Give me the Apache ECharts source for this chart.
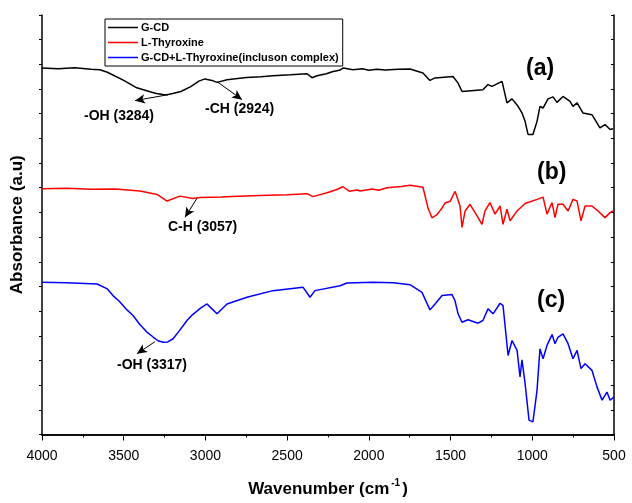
<!DOCTYPE html>
<html>
<head>
<meta charset="utf-8">
<script src="https://cdn.jsdelivr.net/npm/echarts@6/dist/echarts.min.js"></script>
<style>
  html, body { margin: 0; padding: 0; background: #fff; }
  #main { width: 632px; height: 503px; }
</style>
</head>
<body>
<div id="main"></div>
<script>
const chartDom = document.getElementById('main');
const myChart = echarts.init(chartDom);

// wavenumber (cm-1) / absorbance (a.u.)
const gcdWave = [4000, 3900, 3800, 3700, 3645, 3600, 3500, 3420, 3339, 3300, 3260, 3235, 3200, 3150, 3090, 3040, 3003, 2960, 2929, 2868, 2750, 2660, 2587, 2480, 2378, 2348, 2317, 2260, 2219, 2180, 2158, 2097, 2040, 2000, 1950, 1900, 1820,
    1748, 1669, 1626, 1595, 1485, 1454, 1430, 1302, 1271, 1247, 1185, 1155, 1124, 1087, 1063, 1044, 1026, 996, 971, 953, 934, 904, 873, 849, 812, 769, 751, 726, 690, 635, 586, 555, 524, 506];
const gcdAbs  = [14.85, 14.82, 14.86, 14.8, 14.78, 14.68, 14.35, 14.05, 13.89, 13.82, 13.78, 13.77, 13.82, 13.9, 14.1, 14.32, 14.41, 14.35, 14.27, 14.38, 14.47, 14.5, 14.54, 14.58, 14.62, 14.46, 14.54, 14.62, 14.71, 14.76, 14.85, 14.78, 14.82, 14.76, 14.8, 14.77, 14.8,
    14.81, 14.65, 14.35, 14.45, 14.51, 14.24, 13.9, 13.97, 14.18, 14.11, 14.31, 13.44, 13.6, 13.3, 13.03, 12.69, 12.16, 12.16, 12.69, 13.3, 13.23, 13.6, 13.68, 13.46, 13.7, 13.5, 13.3, 13.44, 13.03, 12.96, 12.43, 12.56, 12.36, 12.39];

const thyWave = [4000, 3850, 3700, 3550, 3400, 3296, 3235, 3156, 3076, 3033, 2900, 2800, 2666, 2500, 2378, 2342, 2256, 2200, 2158, 2120, 2072, 2054, 1980, 1940, 1889, 1800,
    1748, 1669, 1638, 1614, 1583, 1552, 1534, 1503, 1472, 1442, 1430, 1411, 1381, 1338, 1308, 1289, 1259, 1228, 1197, 1179, 1155, 1136, 1093, 1044, 971, 934, 910, 879, 861, 843, 812, 781, 751, 726, 702, 677, 635, 598, 555, 524, 506];
const thyAbs  = [9.96, 9.98, 9.94, 9.95, 9.87, 9.73, 9.46, 9.66, 9.56, 9.6, 9.62, 9.65, 9.69, 9.72, 9.76, 9.64, 9.8, 9.92, 10.04, 9.86, 9.91, 9.87, 9.95, 9.9, 10.0, 10.05,
    10.1, 10.02, 9.18, 8.78, 8.91, 9.18, 9.38, 9.45, 9.85, 9.26, 8.39, 9.06, 9.33, 8.86, 8.52, 9.06, 9.4, 8.93, 9.26, 8.52, 9.13, 8.66, 9.06, 9.36, 9.53, 9.62, 8.93, 9.4, 8.79, 9.33, 9.33, 9.06, 9.53, 9.46, 8.66, 9.26, 9.26, 9.06, 8.79, 8.99, 9.06];

const cmplxWave = [4000, 3850, 3663, 3600, 3566, 3530, 3480, 3443, 3400, 3358, 3320, 3290, 3260, 3230, 3198, 3160, 3113, 3080, 3030, 2990, 2960, 2929, 2868, 2746, 2587, 2403, 2360, 2330, 2176, 2134, 1975, 1850,
    1748, 1675, 1626, 1595, 1552, 1491, 1473, 1454, 1430, 1393, 1332, 1302, 1271, 1240, 1197, 1179, 1148, 1124, 1093, 1075, 1063, 1044, 1020, 996, 971, 953, 934, 910, 879, 861, 843, 812, 781, 751, 726, 702, 677, 635, 604, 573, 543, 524, 500];
const cmplxAbs  = [6.17, 6.15, 6.1, 5.9, 5.63, 5.42, 5.05, 4.82, 4.45, 4.15, 3.95, 3.8, 3.74, 3.75, 3.88, 4.2, 4.62, 4.85, 5.12, 5.29, 5.09, 4.89, 5.29, 5.56, 5.83, 5.97, 5.56, 5.83, 6.03, 6.14, 6.17, 6.15,
    6.07, 5.76, 5.05, 5.29, 5.63, 5.67, 5.42, 4.89, 4.55, 4.65, 4.51, 4.62, 5.09, 4.89, 5.32, 5.22, 3.2, 3.81, 3.41, 2.33, 3.03, 2.06, 0.58, 0.51, 1.79, 3.47, 3.07, 3.61, 4.05, 3.68, 3.94, 4.08, 3.68, 3.07, 3.41, 2.67, 2.87, 2.6, 1.93, 1.39, 1.72, 1.39, 1.52];

const names = ['G-CD', 'L-Thyroxine', 'G-CD+L-Thyroxine(incluson complex)'];
const colors = ['#000000', '#ff0000', '#0000ff'];

// peak arrows: [from wave, from abs, to wave, to abs]
const arrowsA = [[3229, 13.77, 3431, 13.53], [2929, 14.3, 2776, 13.57]];
const arrowsB = [[3052, 9.57, 3125, 8.8]];
const arrowsC = [[3309, 3.76, 3419, 3.27]];

const font = '"Liberation Sans", Arial, sans-serif';

function zip(xs, ys) {
    return xs.map(function (x, i) { return [x, ys[i]]; });
}

function arrowLines(list) {
    return {
        silent: true,
        symbol: ['none', 'arrow'],
        symbolSize: [7, 10],
        label: { show: false },
        lineStyle: { color: '#000', width: 1, type: 'solid' },
        data: list.map(function (a) {
            return [{ coord: [a[0], a[1]] }, { coord: [a[2], a[3]] }];
        })
    };
}

function series(idx, data, arrows) {
    return {
        name: names[idx],
        type: 'line',
        data: data,
        showSymbol: false,
        symbol: 'none',
        lineStyle: { color: colors[idx], width: 1.5 },
        itemStyle: { color: colors[idx] },
        markLine: arrowLines(arrows),
        animation: false
    };
}

const option = {
    backgroundColor: '#fff',
    animation: false,
    textStyle: { fontFamily: font },
    grid: { left: 42, right: 18, top: 15, bottom: 67 },
    legend: {
        orient: 'vertical',
        left: 105,
        top: 19,
        padding: [3, 4, 3, 3],
        itemGap: 4,
        itemWidth: 30,
        itemHeight: 1.5,
        icon: 'rect',
        borderColor: '#000',
        borderWidth: 1,
        backgroundColor: '#fff',
        textStyle: { fontSize: 11, fontWeight: 'bold', color: '#000', fontFamily: font, padding: [0, 0, 0, -2] },
        data: names
    },
    xAxis: [{
        type: 'value',
        min: 500,
        max: 4000,
        interval: 500,
        inverse: true,
        name: '{a|Wavenumber (cm}{s|-1}{a|)}',
        nameLocation: 'middle',
        nameGap: 44,
        nameTextStyle: {
            rich: {
                a: { fontSize: 17, fontWeight: 'bold', color: '#000', fontFamily: font },
                s: { fontSize: 10, fontWeight: 'bold', color: '#000', fontFamily: font, padding: [0, 2, 12, 2] }
            }
        },
        axisLine: { show: true, lineStyle: { color: '#000', width: 1.5 } },
        axisTick: { show: true, inside: false, length: 6, lineStyle: { color: '#000', width: 1 } },
        minorTick: { show: true, splitNumber: 2, length: 3, lineStyle: { color: '#000' } },
        axisLabel: {
            fontSize: 14, color: '#000', margin: 15, fontFamily: font,
            formatter: function (v) { return String(v); }
        },
        splitLine: { show: false }
    }, {
        type: 'value',
        position: 'top',
        min: 500,
        max: 4000,
        interval: 500,
        inverse: true,
        axisLine: { show: true, lineStyle: { color: '#000', width: 1.5 } },
        axisTick: { show: true, inside: true, length: 3, lineStyle: { color: '#000' } },
        minorTick: { show: true, splitNumber: 2, length: 2, lineStyle: { color: '#000' } },
        axisLabel: { show: false },
        splitLine: { show: false }
    }],
    yAxis: [{
        type: 'value',
        min: 0,
        max: 17,
        interval: 1,
        name: 'Absorbance (a.u)',
        nameLocation: 'middle',
        nameGap: 16,
        nameTextStyle: { fontSize: 17, fontWeight: 'bold', color: '#000', fontFamily: font },
        axisLine: { show: true, lineStyle: { color: '#000', width: 1.5 } },
        axisTick: { show: true, inside: false, length: 3, lineStyle: { color: '#000' } },
        axisLabel: { show: false },
        splitLine: { show: false }
    }, {
        type: 'value',
        position: 'right',
        min: 0,
        max: 17,
        interval: 1,
        axisLine: { show: true, lineStyle: { color: '#000', width: 1.5 } },
        axisTick: { show: true, inside: true, length: 3, lineStyle: { color: '#000' } },
        axisLabel: { show: false },
        splitLine: { show: false }
    }],
    graphic: [
        { type: 'text', left: 526, top: 57, style: { text: '(a)', font: 'bold 23px ' + font, fill: '#000' } },
        { type: 'text', left: 537, top: 161, style: { text: '(b)', font: 'bold 23px ' + font, fill: '#000' } },
        { type: 'text', left: 537, top: 289, style: { text: '(c)', font: 'bold 23px ' + font, fill: '#000' } },
        { type: 'text', left: 84, top: 109, style: { text: '-OH (3284)', font: 'bold 14px ' + font, fill: '#000' } },
        { type: 'text', left: 205, top: 102, style: { text: '-CH (2924)', font: 'bold 14px ' + font, fill: '#000' } },
        { type: 'text', left: 168, top: 220, style: { text: 'C-H (3057)', font: 'bold 14px ' + font, fill: '#000' } },
        { type: 'text', left: 117, top: 358, style: { text: '-OH (3317)', font: 'bold 14px ' + font, fill: '#000' } }
    ],
    series: [
        series(0, zip(gcdWave, gcdAbs), arrowsA),
        series(1, zip(thyWave, thyAbs), arrowsB),
        series(2, zip(cmplxWave, cmplxAbs), arrowsC)
    ]
};

myChart.setOption(option);
</script>
</body>
</html>
